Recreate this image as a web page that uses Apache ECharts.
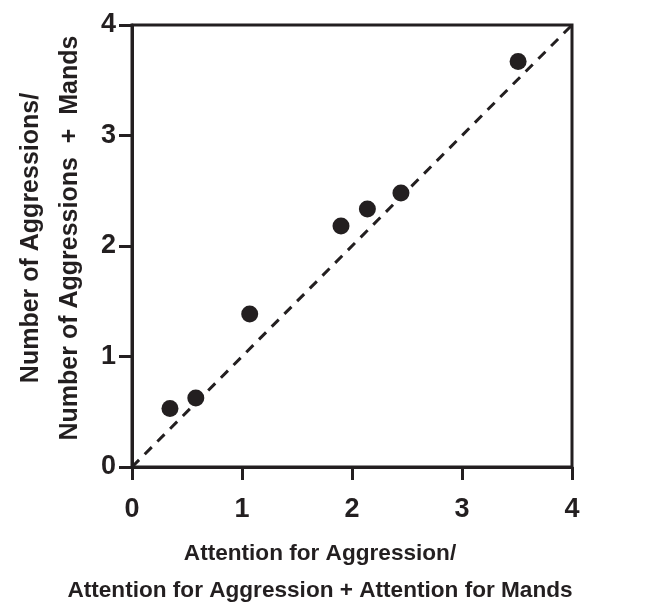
<!DOCTYPE html>
<html><head><meta charset="utf-8">
<script src="https://cdn.jsdelivr.net/npm/echarts@6/dist/echarts.min.js"></script>
<style>html,body{margin:0;padding:0;background:#fff}#c{width:647px;height:609px}</style>
</head><body><div id="c"></div>
<script>
const xValues = [0.345, 0.58, 1.07, 1.90, 2.14, 2.445, 3.51];
const yValues = [0.53, 0.625, 1.385, 2.18, 2.335, 2.48, 3.67];
const refLine = [[0, 0], [4, 4]];
const tickValues = [0, 1, 2, 3, 4];
const xTitle = 'Attention for Aggression/\nAttention for Aggression + Attention for Mands';
const yTitle = 'Number of Aggressions/\nNumber of Aggressions  +  Mands';

const FONT = '"Liberation Sans Narrow", "Arial Narrow", "Liberation Sans", Arial, sans-serif';
const INK = '#231f20';
const chart = echarts.init(document.getElementById('c'));
const axisCommon = {
  type: 'value', min: 0, max: 4, interval: 1,
  axisLine: { show: true, onZero: false, lineStyle: { color: INK, width: 3 } },
  axisTick: { show: true, inside: false, length: 13, lineStyle: { color: INK, width: 3 } },
  splitLine: { show: false },
  axisLabel: { color: INK, fontFamily: FONT, fontWeight: 'bold', fontSize: 27,
    formatter: v => tickValues.includes(v) ? String(v) : '' },
  nameLocation: 'middle'
};
chart.setOption({
  animation: false,
  backgroundColor: '#fff',
  grid: { left: 132, right: 75, top: 25, bottom: 142, containLabel: false, outerBoundsMode: 'none',
    show: true, borderColor: INK, borderWidth: 3 },
  xAxis: Object.assign({}, axisCommon, {
    name: xTitle, nameGap: 68,
    axisLabel: Object.assign({}, axisCommon.axisLabel, { margin: 29 }),
    nameTextStyle: { color: INK, fontFamily: FONT, fontWeight: 'bold', fontSize: 22.6, lineHeight: 37,
      padding: [0, 64, 0, 0] }
  }),
  yAxis: Object.assign({}, axisCommon, {
    name: yTitle, nameGap: 42,
    axisLabel: Object.assign({}, axisCommon.axisLabel, { margin: 16 }),
    nameTextStyle: { color: INK, fontFamily: FONT, fontWeight: 'bold', fontSize: 25, lineHeight: 39,
      padding: [0, 0, 0, 16] }
  }),
  series: [
    { type: 'line', data: refLine, symbol: 'none', silent: true,
      lineStyle: { color: INK, width: 3, type: [10, 8] }, z: 1 },
    { type: 'scatter', data: xValues.map((x, i) => [x, yValues[i]]),
      symbol: 'circle', symbolSize: 17, itemStyle: { color: INK, opacity: 1 }, z: 3 }
  ]
});
</script></body></html>
